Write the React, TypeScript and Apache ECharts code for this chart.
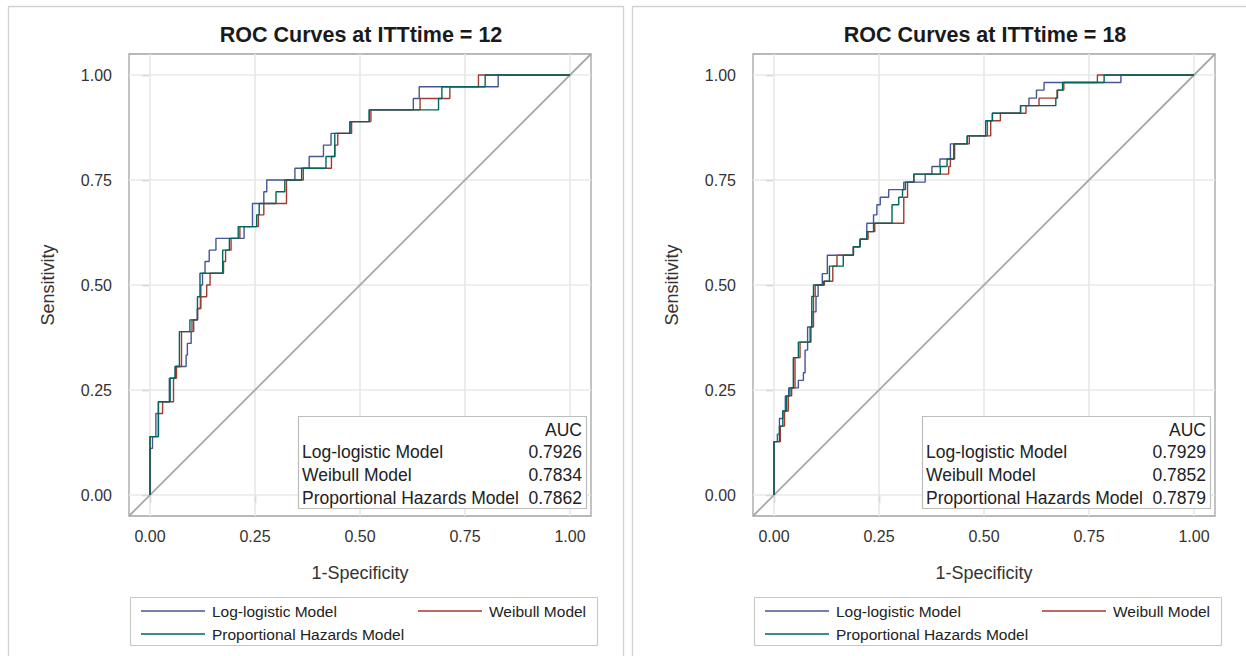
import React, { useEffect, useRef } from 'react';
import * as echarts from 'echarts';

// ---------- data ----------
const tickValues = [0, 0.25, 0.5, 0.75, 1];
const ittTimes = [12, 18];
const modelNames = ['Log-logistic Model', 'Weibull Model', 'Proportional Hazards Model'];
const modelColors = ['#445694', '#A23A2E', '#01665E'];
const auc12 = [0.7926, 0.7834, 0.7862];
const auc18 = [0.7929, 0.7852, 0.7879];

// ROC points [1-specificity, sensitivity] for ITTtime = 12
const roc12LogLogistic = [
  [0, 0], [0, 0.111], [0.006, 0.139], [0.014, 0.194], [0.02, 0.222], [0.046, 0.278], [0.06, 0.306],
  [0.086, 0.333], [0.089, 0.361], [0.098, 0.389], [0.104, 0.417], [0.113, 0.444], [0.121, 0.5],
  [0.125, 0.528], [0.131, 0.556], [0.141, 0.583], [0.157, 0.611], [0.224, 0.639], [0.244, 0.694],
  [0.271, 0.722], [0.278, 0.75], [0.345, 0.778], [0.379, 0.806], [0.413, 0.833], [0.431, 0.861],
  [0.476, 0.889], [0.522, 0.917], [0.627, 0.944], [0.641, 0.972], [0.829, 1], [1, 1],
];
const roc12Weibull = [
  [0, 0], [0, 0.139], [0.02, 0.194], [0.03, 0.222], [0.056, 0.278], [0.063, 0.306], [0.075, 0.389],
  [0.1, 0.417], [0.113, 0.444], [0.12, 0.472], [0.135, 0.5], [0.143, 0.528], [0.175, 0.556],
  [0.18, 0.583], [0.193, 0.611], [0.214, 0.639], [0.258, 0.667], [0.271, 0.694], [0.325, 0.75],
  [0.365, 0.778], [0.432, 0.806], [0.44, 0.833], [0.447, 0.861], [0.48, 0.889], [0.526, 0.917],
  [0.643, 0.944], [0.714, 0.972], [0.782, 1], [1, 1],
];
const roc12PH = [
  [0, 0], [0, 0.139], [0.02, 0.222], [0.048, 0.278], [0.06, 0.306], [0.07, 0.389], [0.095, 0.417],
  [0.113, 0.472], [0.119, 0.528], [0.173, 0.583], [0.189, 0.611], [0.21, 0.639], [0.254, 0.667],
  [0.26, 0.694], [0.3, 0.722], [0.321, 0.75], [0.361, 0.778], [0.419, 0.806], [0.44, 0.861],
  [0.476, 0.889], [0.522, 0.917], [0.687, 0.944], [0.695, 0.972], [0.798, 1], [1, 1],
];

// ROC points for ITTtime = 18
const roc18LogLogistic = [
  [0, 0], [0, 0.127], [0.008, 0.145], [0.013, 0.182], [0.021, 0.2], [0.027, 0.236], [0.035, 0.255],
  [0.058, 0.273], [0.07, 0.291], [0.074, 0.345], [0.08, 0.4], [0.09, 0.436], [0.1, 0.473],
  [0.105, 0.5], [0.115, 0.527], [0.127, 0.571], [0.189, 0.591], [0.205, 0.609], [0.221, 0.647],
  [0.237, 0.667], [0.245, 0.691], [0.253, 0.709], [0.273, 0.727], [0.309, 0.745], [0.36, 0.764],
  [0.376, 0.782], [0.395, 0.8], [0.42, 0.836], [0.46, 0.855], [0.508, 0.891], [0.52, 0.909],
  [0.587, 0.927], [0.607, 0.945], [0.625, 0.964], [0.643, 0.982], [0.826, 1], [1, 1],
];
const roc18Weibull = [
  [0, 0], [0, 0.127], [0.015, 0.164], [0.025, 0.2], [0.034, 0.236], [0.042, 0.255], [0.05, 0.327],
  [0.062, 0.364], [0.088, 0.4], [0.094, 0.473], [0.098, 0.5], [0.12, 0.509], [0.14, 0.545],
  [0.15, 0.571], [0.189, 0.591], [0.205, 0.609], [0.224, 0.627], [0.24, 0.647], [0.309, 0.709],
  [0.318, 0.745], [0.333, 0.764], [0.416, 0.782], [0.42, 0.8], [0.43, 0.836], [0.465, 0.855],
  [0.516, 0.891], [0.539, 0.909], [0.6, 0.927], [0.631, 0.945], [0.674, 0.964], [0.69, 0.982],
  [0.77, 1], [1, 1],
];
const roc18PH = [
  [0, 0], [0, 0.127], [0.013, 0.164], [0.021, 0.2], [0.03, 0.236], [0.038, 0.255], [0.046, 0.327],
  [0.058, 0.364], [0.086, 0.4], [0.09, 0.473], [0.094, 0.5], [0.118, 0.509], [0.132, 0.545],
  [0.165, 0.571], [0.189, 0.591], [0.205, 0.609], [0.221, 0.627], [0.237, 0.647], [0.281, 0.691],
  [0.297, 0.709], [0.306, 0.727], [0.313, 0.745], [0.333, 0.764], [0.396, 0.782], [0.412, 0.8],
  [0.428, 0.836], [0.46, 0.855], [0.504, 0.891], [0.52, 0.909], [0.587, 0.927], [0.671, 0.945],
  [0.675, 0.964], [0.687, 0.982], [0.786, 1], [1, 1],
];

const panelCurves = [
  [roc12LogLogistic, roc12Weibull, roc12PH],
  [roc18LogLogistic, roc18Weibull, roc18PH],
];
const panelAuc = [auc12, auc18];

// ---------- helpers ----------
const FONT = "'Liberation Sans', Arial, Helvetica, sans-serif";
const AX_MIN = -0.05;
const AX_MAX = 1.05;

function stairs(pts: number[][]) {
  const out: number[][] = [[pts[0][0], pts[0][1]]];
  for (let i = 1; i < pts.length; i++) {
    out.push([pts[i][0], pts[i - 1][1]]);
    out.push([pts[i][0], pts[i][1]]);
  }
  return out;
}

function buildOption() {
  const PANEL_DX = 624;
  const grids: any[] = [];
  const xAxes: any[] = [];
  const yAxes: any[] = [];
  const series: any[] = [];
  const graphics: any[] = [];

  ittTimes.forEach((t, p) => {
    const dx = p * PANEL_DX;
    grids.push({
      left: 129 + dx, top: 54, width: 462, height: 462,
      show: true, borderColor: '#A3A3A3', borderWidth: 1.3, backgroundColor: 'transparent',
    });
    xAxes.push({
      type: 'value', gridIndex: p, min: AX_MIN, max: AX_MAX,
      name: '1-Specificity', nameLocation: 'middle', nameGap: 48,
      nameTextStyle: { fontSize: 18, color: '#333', fontFamily: FONT },
      axisLine: { show: false },
      axisTick: { show: true, customValues: tickValues, length: 8, lineStyle: { color: '#A3A3A3', width: 1.3 } },
      axisLabel: {
        customValues: tickValues, margin: 12, fontSize: 16, color: '#333', fontFamily: FONT,
        formatter: (v: number) => v.toFixed(2),
      },
      splitLine: { show: false },
    });
    yAxes.push({
      type: 'value', gridIndex: p, min: AX_MIN, max: AX_MAX,
      name: 'Sensitivity', nameLocation: 'middle', nameGap: 72,
      nameTextStyle: { fontSize: 18, color: '#333', fontFamily: FONT },
      axisLine: { show: false },
      axisTick: { show: true, customValues: tickValues, length: 8, lineStyle: { color: '#A3A3A3', width: 1.3 } },
      axisLabel: {
        customValues: tickValues, margin: 17, fontSize: 16, color: '#333', fontFamily: FONT,
        formatter: (v: number) => v.toFixed(2),
      },
      splitLine: { show: false },
    });

    // grid lines
    series.push({
      type: 'custom', xAxisIndex: p, yAxisIndex: p, silent: true, z: 1,
      data: tickValues.map((v) => [v, v]),
      renderItem: (_params: any, api: any) => {
        const v = api.value(0);
        const a = api.coord([v, AX_MIN]);
        const b = api.coord([v, AX_MAX]);
        const c = api.coord([AX_MIN, v]);
        const d = api.coord([AX_MAX, v]);
        return {
          type: 'group',
          children: [
            { type: 'line', shape: { x1: a[0], y1: a[1], x2: b[0], y2: b[1] }, style: { stroke: '#E8E8E8', lineWidth: 1.6 } },
            { type: 'line', shape: { x1: c[0], y1: c[1], x2: d[0], y2: d[1] }, style: { stroke: '#E8E8E8', lineWidth: 1.6 } },
          ],
        };
      },
    });
    // reference diagonal
    series.push({
      type: 'line', xAxisIndex: p, yAxisIndex: p, z: 2, silent: true,
      data: [[AX_MIN, AX_MIN], [AX_MAX, AX_MAX]],
      showSymbol: false, symbol: 'none',
      lineStyle: { color: '#A8A8A8', width: 1.8 },
    });
    // ROC curves
    panelCurves[p].forEach((pts, m) => {
      series.push({
        type: 'line', name: modelNames[m], xAxisIndex: p, yAxisIndex: p, z: 3 + m,
        data: stairs(pts), showSymbol: false, symbol: 'none',
        lineStyle: { color: modelColors[m], width: 1.4 },
        itemStyle: { color: modelColors[m] },
      });
    });

    // panel border
    graphics.push({
      type: 'rect', z: 0, silent: true,
      shape: { x: 8.5 + dx, y: 6.5, width: 615, height: 700 },
      style: { fill: 'none', stroke: '#D2D2D2', lineWidth: 1.3 },
    });
    // title
    graphics.push({
      type: 'text', z: 10, x: 361 + dx, y: 35,
      style: {
        text: `ROC Curves at ITTtime = ${t}`, fill: '#1a1a1a', fontSize: 21.5, fontWeight: 'bold',
        fontFamily: FONT, align: 'center', verticalAlign: 'middle', textAlign: 'center', textVerticalAlign: 'middle',
      },
    });
    // AUC inset table
    graphics.push({
      type: 'rect', z: 10, silent: true,
      shape: { x: 298.5 + dx, y: 416.5, width: 288, height: 92 },
      style: { fill: '#fff', stroke: '#BDBDBD', lineWidth: 1.2 },
    });
    graphics.push({
      type: 'text', z: 11, x: 582 + dx, y: 430,
      style: { text: 'AUC', fill: '#222', fontSize: 17.5, fontFamily: FONT, align: 'right', verticalAlign: 'middle', textAlign: 'right', textVerticalAlign: 'middle' },
    });
    modelNames.forEach((nm, m) => {
      const y = 452 + m * 23.2;
      graphics.push({
        type: 'text', z: 11, x: 302 + dx, y,
        style: { text: nm, fill: '#222', fontSize: 17.5, fontFamily: FONT, align: 'left', verticalAlign: 'middle', textAlign: 'left', textVerticalAlign: 'middle' },
      });
      graphics.push({
        type: 'text', z: 11, x: 582 + dx, y,
        style: { text: panelAuc[p][m].toFixed(4), fill: '#222', fontSize: 17.5, fontFamily: FONT, align: 'right', verticalAlign: 'middle', textAlign: 'right', textVerticalAlign: 'middle' },
      });
    });
    // legend
    graphics.push({
      type: 'rect', z: 10, silent: true,
      shape: { x: 130.5 + dx, y: 597.5, width: 467, height: 48 },
      style: { fill: '#fff', stroke: '#C8C8C8', lineWidth: 1.2 },
    });
    const legendPos = [
      { lx: 141, ly: 611 },
      { lx: 418, ly: 611 },
      { lx: 141, ly: 634 },
    ];
    modelNames.forEach((nm, m) => {
      const { lx, ly } = legendPos[m];
      graphics.push({
        type: 'line', z: 11, silent: true,
        shape: { x1: lx + dx, y1: ly, x2: lx + 64 + dx, y2: ly },
        style: { stroke: modelColors[m], lineWidth: 1.4 },
      });
      graphics.push({
        type: 'text', z: 11, x: lx + 71 + dx, y: ly,
        style: { text: nm, fill: '#222', fontSize: 15.5, fontFamily: FONT, align: 'left', verticalAlign: 'middle', textAlign: 'left', textVerticalAlign: 'middle' },
      });
    });
  });

  return {
    animation: false,
    backgroundColor: '#fff',
    textStyle: { fontFamily: FONT },
    grid: grids,
    xAxis: xAxes,
    yAxis: yAxes,
    series,
    graphic: { elements: graphics },
  };
}

export default function App() {
  const ref = useRef<HTMLDivElement>(null);
  useEffect(() => {
    if (!ref.current) return;
    const chart = echarts.init(ref.current, null, { renderer: 'svg' });
    chart.setOption(buildOption() as any);
    return () => chart.dispose();
  }, []);
  return (
    <div
      ref={ref}
      style={{ position: 'absolute', left: 0, top: 0, width: 1246, height: 656, background: '#fff' }}
    />
  );
}
